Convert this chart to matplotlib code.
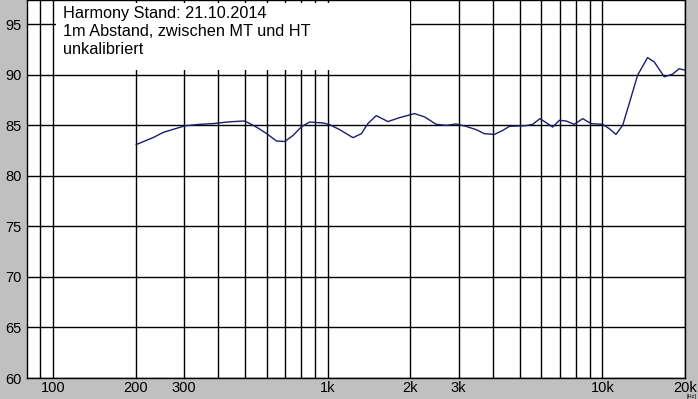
#!/usr/bin/python3
# Frequency response plot, Harmony stand measurement
import numpy as np
import matplotlib
matplotlib.use('Agg')
import matplotlib.pyplot as plt
import matplotlib.patches as patches

# -- data (Hz, dB)
freqs = [201, 232, 252, 266, 302, 342, 383, 440, 499, 550, 598, 651, 698, 748,
         802, 860, 962, 1016, 1106, 1236, 1326, 1401, 1503, 1657, 1827, 2071,
         2255, 2483, 2702, 2938, 3190, 3473, 3724, 4047, 4340, 4590, 5280,
         5580, 5930, 6320, 6596, 6977, 7380, 7910, 8485, 9100, 10020, 10600,
         11210, 11860, 12530, 13440, 14610, 15450, 16810, 18010, 19050, 20000]
levels = [83.1, 83.8, 84.3, 84.5, 84.95, 85.1, 85.17, 85.35, 85.43, 84.83,
          84.2, 83.45, 83.4, 84.0, 84.85, 85.33, 85.23, 85.07, 84.57, 83.78,
          84.17, 85.17, 85.96, 85.37, 85.76, 86.16, 85.83, 85.1, 85.0, 85.13,
          84.9, 84.57, 84.17, 84.1, 84.5, 84.9, 84.97, 85.1, 85.66, 85.17,
          84.83, 85.5, 85.43, 85.1, 85.66, 85.17, 85.1, 84.67, 84.1, 85.0,
          87.15, 89.96, 91.7, 91.28, 89.8, 90.06, 90.6, 90.46]

majorTicks = [100, 200, 300, 1000, 2000, 3000, 10000, 20000]
majorLabels = ['100', '200', '300', '1k', '2k', '3k', '10k', '20k']
minorTicks = [90, 400, 500, 600, 700, 800, 900, 4000, 5000, 6000, 7000, 8000, 9000]
yTicks = [60, 65, 70, 75, 80, 85, 90, 95]

infoLines = ["Harmony Stand: 21.10.2014",
             "1m Abstand, zwischen MT und HT",
             "unkalibriert"]

bgColor = '#c0c0c0'
curveColor = '#1c1c6e'

plt.rcParams['font.family'] = ['Liberation Sans', 'DejaVu Sans']


def main():
    W, H = 698, 399
    fig = plt.figure(figsize=(W / 100, H / 100), dpi=100, facecolor=bgColor)
    left, right, top, bottom = 27, 685, 0, 378
    ax = fig.add_axes([left / W, (H - bottom) / H, (right - left) / W, (bottom - top) / H])
    ax.set_facecolor('white')
    ax.set_xscale('log')
    ax.set_xlim(80.4, 20000)
    ax.set_ylim(60, 97.4)

    #--grid
    for f in majorTicks + minorTicks:
        ax.axvline(f, color='black', lw=1, zorder=1)
    for v in yTicks:
        ax.axhline(v, color='black', lw=1, zorder=1)

    #--ticks
    ax.set_xticks(majorTicks, labels=majorLabels)
    ax.set_xticks([], minor=True)
    ax.set_yticks(yTicks, labels=[str(v) for v in yTicks])
    ax.tick_params(axis='both', length=0, labelsize=10.5, colors='black')
    ax.tick_params(axis='x', pad=2)
    ax.tick_params(axis='y', pad=4)
    for s in ax.spines.values():
        s.set_color('black')
        s.set_linewidth(1)

    #--info box
    box = patches.Rectangle(((56 - left) / (right - left), 1 - 70 / 378),
                            (410 - 56) / (right - left), 67 / 378,
                            transform=ax.transAxes, facecolor='white',
                            edgecolor='none', zorder=2)
    ax.add_patch(box)
    ax.text((63 - left) / (right - left), 1 - 6 / 378, "\n".join(infoLines),
            transform=ax.transAxes, ha='left', va='top', fontsize=11.7,
            linespacing=1.27, zorder=3)

    #--curve
    ax.plot(freqs, levels, color=curveColor, lw=1, zorder=4)

    fig.text(692 / W, 0.3 / H, "[Hz]", fontsize=4, ha='center', va='bottom')

    plt.savefig('out.png', dpi=100, facecolor=bgColor)


if __name__ == "__main__":
    main()
